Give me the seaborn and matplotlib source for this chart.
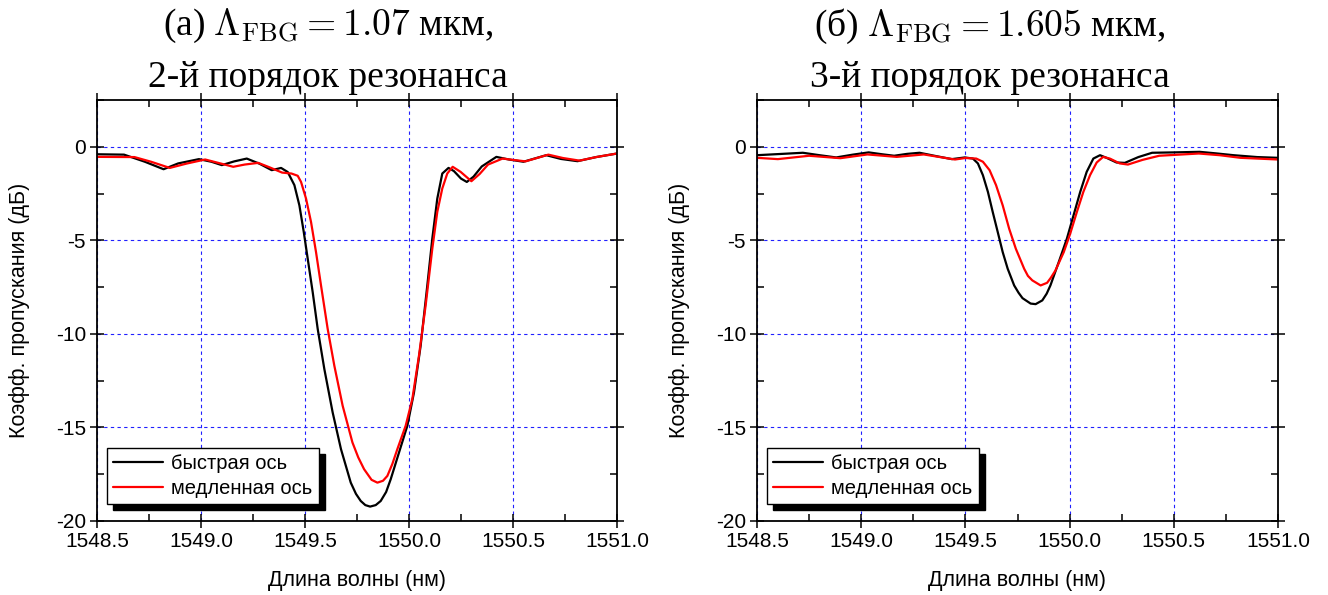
import numpy as np
import pandas as pd
import matplotlib
matplotlib.use("Agg")
import matplotlib.pyplot as plt
from matplotlib.ticker import MultipleLocator, FormatStrFormatter
import seaborn as sns

# ---------------- data ----------------
series_names = ["быстрая ось", "медленная ось"]

# panel (a): fast axis
a_fast_wl = [1548.50, 1548.63, 1548.73, 1548.82, 1548.89, 1548.99, 1549.05, 1549.10, 1549.16,
             1549.22, 1549.28, 1549.34, 1549.385, 1549.417, 1549.449, 1549.473, 1549.494,
             1549.513, 1549.537, 1549.561, 1549.593, 1549.633, 1549.673, 1549.720, 1549.745,
             1549.768, 1549.79, 1549.813, 1549.84, 1549.864, 1549.89, 1549.912, 1549.952,
             1549.992, 1550.024, 1550.056, 1550.088, 1550.112, 1550.136, 1550.160, 1550.19,
             1550.216, 1550.25, 1550.278, 1550.31, 1550.35, 1550.42, 1550.48, 1550.55, 1550.66,
             1550.73, 1550.81, 1550.90, 1551.00]
a_fast_db = [-0.40, -0.42, -0.80, -1.20, -0.89, -0.66, -0.80, -0.98, -0.78,
             -0.63, -0.90, -1.25, -1.13, -1.35, -2.05, -3.13, -4.55,
             -5.98, -7.77, -9.73, -11.88, -14.20, -16.16, -17.95, -18.55,
             -18.93, -19.15, -19.23, -19.15, -18.93, -18.45, -17.77, -16.34,
             -14.91, -13.13, -10.63, -7.41, -4.91, -2.77, -1.43, -1.13,
             -1.30, -1.70, -1.88, -1.60, -1.05, -0.54, -0.68, -0.80, -0.45,
             -0.65, -0.77, -0.55, -0.36]

# panel (a): slow axis
a_slow_wl = [1548.50, 1548.68, 1548.76, 1548.85, 1548.93, 1549.02, 1549.09, 1549.155, 1549.21,
             1549.275, 1549.33, 1549.39, 1549.435, 1549.465, 1549.481, 1549.505, 1549.529,
             1549.553, 1549.577, 1549.609, 1549.641, 1549.681, 1549.728, 1549.756, 1549.784,
             1549.82, 1549.848, 1549.875, 1549.896, 1549.92, 1549.944, 1549.984, 1550.016,
             1550.048, 1550.080, 1550.112, 1550.136, 1550.160, 1550.184, 1550.21, 1550.248,
             1550.30, 1550.34, 1550.38, 1550.45, 1550.50, 1550.56, 1550.67, 1550.74, 1550.82,
             1550.90, 1551.00]
a_slow_db = [-0.54, -0.55, -0.80, -1.13, -0.90, -0.68, -0.88, -1.07, -0.95,
             -0.86, -1.10, -1.38, -1.43, -1.55, -1.88, -2.77, -4.02,
             -5.63, -7.41, -9.73, -11.70, -13.84, -15.80, -16.60, -17.23,
             -17.80, -17.95, -17.85, -17.59, -16.95, -16.16, -14.91, -13.48,
             -11.16, -8.48, -5.45, -3.48, -2.23, -1.43, -1.07, -1.34,
             -1.84, -1.45, -0.95, -0.63, -0.70, -0.78, -0.42, -0.60, -0.74,
             -0.55, -0.36]

# panel (b): fast axis
b_fast_wl = [1548.50, 1548.62, 1548.72, 1548.80, 1548.88, 1548.96, 1549.036, 1549.10, 1549.158,
             1549.22, 1549.28, 1549.36, 1549.435, 1549.497, 1549.536, 1549.560, 1549.584,
             1549.608, 1549.631, 1549.655, 1549.679, 1549.703, 1549.734, 1549.755, 1549.774,
             1549.813, 1549.837, 1549.869, 1549.89, 1549.908, 1549.948, 1549.987, 1550.019,
             1550.051, 1550.082, 1550.114, 1550.146, 1550.177, 1550.225, 1550.265, 1550.33,
             1550.396, 1550.50, 1550.624, 1550.70, 1550.787, 1550.90, 1551.00]
b_fast_db = [-0.45, -0.38, -0.32, -0.45, -0.57, -0.42, -0.30, -0.40, -0.48,
             -0.38, -0.32, -0.50, -0.66, -0.57, -0.63, -0.89, -1.52,
             -2.41, -3.48, -4.55, -5.63, -6.52, -7.41, -7.80, -8.09,
             -8.38, -8.41, -8.21, -7.85, -7.41, -6.16, -4.91, -3.66,
             -2.41, -1.34, -0.63, -0.45, -0.59, -0.84, -0.86, -0.55,
             -0.32, -0.30, -0.27, -0.35, -0.45, -0.55, -0.59]

# panel (b): slow axis
b_slow_wl = [1548.50, 1548.60, 1548.75, 1548.90, 1549.03, 1549.17, 1549.30, 1549.45, 1549.50,
             1549.552, 1549.584, 1549.616, 1549.647, 1549.679, 1549.710, 1549.742, 1549.782,
             1549.80, 1549.821, 1549.861, 1549.892, 1549.91, 1549.932, 1549.972, 1550.003,
             1550.035, 1550.066, 1550.098, 1550.130, 1550.161, 1550.193, 1550.241, 1550.28,
             1550.35, 1550.43, 1550.62, 1550.72, 1550.82, 1551.00]
b_slow_db = [-0.59, -0.66, -0.48, -0.61, -0.41, -0.54, -0.41, -0.68, -0.60,
             -0.63, -0.80, -1.25, -2.05, -3.13, -4.38, -5.45, -6.52,
             -6.90, -7.14, -7.41, -7.27, -7.00, -6.61, -5.63, -4.64,
             -3.48, -2.41, -1.52, -0.84, -0.54, -0.63, -0.89, -0.95,
             -0.70, -0.48, -0.36, -0.45, -0.59, -0.68]

titles_line1 = [r"(а) $\Lambda_{\mathrm{FBG}} = 1.07$ мкм,",
                r"(б) $\Lambda_{\mathrm{FBG}} = 1.605$ мкм,"]
titles_line2 = ["2-й порядок резонанса", "3-й порядок резонанса"]
x_label = "Длина волны (нм)"
y_label = "Коэфф. пропускания (дБ)"

# ---------------- styling ----------------
sns.set_theme(style="white")
plt.rcParams["font.family"] = ["Liberation Sans", "DejaVu Sans"]
plt.rcParams["mathtext.fontset"] = "cm"
plt.rcParams["axes.unicode_minus"] = False
plt.rcParams["text.color"] = "black"
plt.rcParams["axes.labelcolor"] = "black"
plt.rcParams["xtick.color"] = "black"
plt.rcParams["ytick.color"] = "black"

palette = {series_names[0]: "#000000", series_names[1]: "#ff0000"}

fig = plt.figure(figsize=(13.28, 5.95), dpi=100)
ax_a = fig.add_axes([97 / 1328, 1 - 521 / 595, 520 / 1328, 421 / 595])
ax_b = fig.add_axes([757 / 1328, 1 - 521 / 595, 521 / 1328, 421 / 595])

panels = [
    (ax_a, a_fast_wl, a_fast_db, a_slow_wl, a_slow_db),
    (ax_b, b_fast_wl, b_fast_db, b_slow_wl, b_slow_db),
]

title_x = [328 / 1328, 990 / 1328]
serif = ["Liberation Serif", "DejaVu Serif"]

for i, (ax, fw, fd, sw, sd) in enumerate(panels):
    df = pd.concat([
        pd.DataFrame({"wl": fw, "db": fd, "s": series_names[0]}),
        pd.DataFrame({"wl": sw, "db": sd, "s": series_names[1]}),
    ], ignore_index=True)
    sns.lineplot(data=df, x="wl", y="db", hue="s", palette=palette,
                 estimator=None, sort=False, linewidth=1.6, ax=ax, legend=False)

    ax.set_xlim(1548.5, 1551.0)
    ax.set_ylim(-20, 2.5)
    ax.xaxis.set_major_locator(MultipleLocator(0.5))
    ax.xaxis.set_minor_locator(MultipleLocator(0.25))
    ax.yaxis.set_major_locator(MultipleLocator(5))
    ax.yaxis.set_minor_locator(MultipleLocator(2.5))
    ax.xaxis.set_major_formatter(FormatStrFormatter("%.1f"))
    ax.yaxis.set_major_formatter(FormatStrFormatter("%g"))

    ax.grid(True, which="major", color="#2020ff", linestyle=(0, (3, 3)), linewidth=0.8)
    ax.set_axisbelow(True)

    for sp in ax.spines.values():
        sp.set_color("black")
        sp.set_linewidth(1.3)
        sp.set_visible(True)

    ax.tick_params(which="major", direction="inout", length=10, width=1.1,
                   top=True, right=True, bottom=True, left=True,
                   labelsize=15, colors="black", pad=3)
    ax.tick_params(which="minor", direction="in", length=5, width=1.1,
                   top=True, right=True, bottom=True, left=True)

    ax.set_xlabel(x_label, fontsize=15.5, color="black")
    ax.set_ylabel(y_label, fontsize=15.5, color="black")
    ax.xaxis.set_label_coords(0.5, -0.117)
    ax.yaxis.set_label_coords(-0.128, 0.5)

    handles = [plt.Line2D([], [], color=palette[n], linewidth=1.6) for n in series_names]
    leg = ax.legend(handles, series_names, loc="lower left",
                    bbox_to_anchor=(0.019, 0.04), fontsize=14.5,
                    frameon=True, fancybox=False, edgecolor="black",
                    framealpha=1, borderpad=0.3, labelspacing=0.3,
                    handlelength=2.5, handletextpad=0.4, borderaxespad=0,
                    labelcolor="black",
                    shadow={"ox": 4.5, "oy": -4.5, "color": "black", "alpha": 1})
    leg.get_frame().set_linewidth(1.0)

    fig.text(title_x[i], 1 - 26 / 595, titles_line1[i], ha="center", va="center",
             fontsize=27, family=serif, color="black")
    fig.text(title_x[i], 1 - 78 / 595, titles_line2[i], ha="center", va="center",
             fontsize=27, family=serif, color="black")

fig.savefig("out.png", dpi=100)
